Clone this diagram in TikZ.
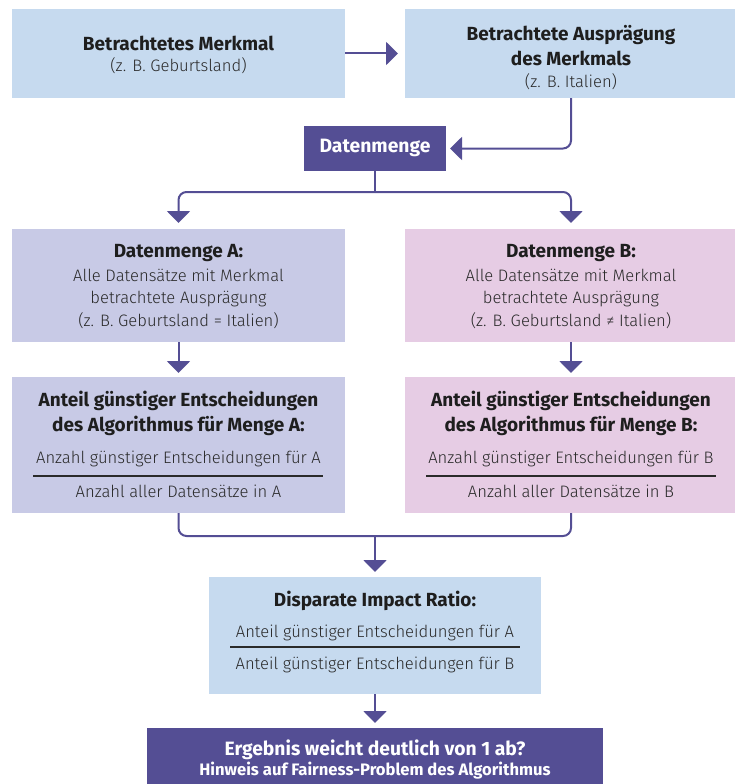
\documentclass[tikz,border=0pt]{standalone}
\usepackage{fontspec}
\setmainfont{Fira Sans}
\newfontfamily\lightf{Fira Sans Light}
\usetikzlibrary{arrows.meta}
\definecolor{lblue}{HTML}{C6DAEF}
\definecolor{lav}{HTML}{C8CAE6}
\definecolor{pinkb}{HTML}{E6CCE4}
\definecolor{purp}{HTML}{544E94}
\definecolor{txtb}{HTML}{1E1E1E}
\definecolor{txtr}{HTML}{2A2A2A}
\begin{document}
\begin{tikzpicture}[x=1pt,y=-1pt,
  boxbase/.style={inner sep=0pt, outer sep=0pt, draw=none},
  conn/.style={draw=purp, line width=2pt, rounded corners=8pt},
  arr/.style={conn, -{Triangle[width=23pt,length=12pt]}},
  bt/.style={font=\fontsize{19}{25}\selectfont\bfseries, text=txtb, align=center, inner sep=0pt},
  rt/.style={font=\fontsize{16.6}{22.5}\selectfont\lightf, text=txtr, align=center, inner sep=0pt},
  wt/.style={font=\fontsize{19.3}{24}\selectfont\bfseries, text=white, align=center, inner sep=0pt},
  ws/.style={font=\fontsize{16.6}{20}\selectfont\bfseries, text=white, align=center, inner sep=0pt},
  rule/.style={draw=txtr, line width=1.3pt}
]
\useasboundingbox (0,0) rectangle (734,784);

% top row
\node[boxbase, fill=lblue, minimum width=333pt, minimum height=89pt] (b1) at (178.5,53.5) {};
\node[bt] (b1t) at (178.5,43) {Betrachtetes Merkmal};
\node[rt] (b1s) at (178.5,65.5) {(z. B. Geburtsland)};

\node[boxbase, fill=lblue, minimum width=332pt, minimum height=89pt] (b2) at (571,53.5) {};
\node[bt] (b2t) at (571,45.5) {Betrachtete Ausprägung\\des Merkmals};
\node[rt] (b2s) at (571,81.5) {(z. B. Italien)};

% Datenmenge
\node[boxbase, fill=purp, minimum width=142pt, minimum height=45pt] (dm) at (375,148.5) {};
\node[wt] (dmt) at (375,147.5) {Datenmenge};

% A / B
\node[boxbase, fill=lav, minimum width=333pt, minimum height=113pt] (A) at (178.5,285.5) {};
\node[bt] (At) at (178.5,253.5) {Datenmenge A:};
\node[rt] (As) at (178.5,298.5) {Alle Datensätze mit Merkmal\\betrachtete Ausprägung\\(z. B. Geburtsland = Italien)};

\node[boxbase, fill=pinkb, minimum width=332pt, minimum height=113pt] (B) at (571,285.5) {};
\node[bt] (Bt) at (571,253.5) {Datenmenge B:};
\node[rt] (Bs) at (571,298.5) {Alle Datensätze mit Merkmal\\betrachtete Ausprägung\\(z. B. Geburtsland ≠ Italien)};

% A2 / B2
\node[boxbase, fill=lav, minimum width=333pt, minimum height=136pt] (A2) at (178.5,445) {};
\node[bt] (A2t) at (178.5,413) {Anteil günstiger Entscheidungen\\des Algorithmus für Menge A:};
\node[rt] (A2n) at (178.5,459) {Anzahl günstiger Entscheidungen für A};
\coordinate (A2l) at (33,476);
\coordinate (A2r) at (323,476);
\draw[rule] (A2l) -- (A2r);
\node[rt] (A2d) at (178.5,491.5) {Anzahl aller Datensätze in A};

\node[boxbase, fill=pinkb, minimum width=332pt, minimum height=136pt] (B2) at (571,445) {};
\node[bt] (B2t) at (571,413) {Anteil günstiger Entscheidungen\\des Algorithmus für Menge B:};
\node[rt] (B2n) at (571,459) {Anzahl günstiger Entscheidungen für B};
\coordinate (B2l) at (426,476);
\coordinate (B2r) at (716,476);
\draw[rule] (B2l) -- (B2r);
\node[rt] (B2d) at (571,491.5) {Anzahl aller Datensätze in B};

% DIR
\node[boxbase, fill=lblue, minimum width=332pt, minimum height=117pt] (dir) at (375,635.5) {};
\node[bt] (dirt) at (375,601) {Disparate Impact Ratio:};
\node[rt] (dirn) at (375,633) {Anteil günstiger Entscheidungen für A};
\coordinate (dirl) at (230,647);
\coordinate (dirr) at (520,647);
\draw[rule] (dirl) -- (dirr);
\node[rt] (dird) at (375,665) {Anteil günstiger Entscheidungen für B};

% final
\node[boxbase, fill=purp, minimum width=456pt, minimum height=56pt] (fin) at (375,756) {};
\node[wt] (fint) at (375,749.5) {Ergebnis weicht deutlich von 1 ab?};
\node[ws] (fins) at (375,771) {Hinweis auf Fairness-Problem des Algorithmus};

% connectors
\draw[arr, shorten >=7pt] (b1.east) -- (b2.west);
\draw[arr, shorten >=4pt] (b2.south) |- (dm.east);
\coordinate (split) at (375,192);
\draw[conn] (dm.south) -- (split);
\draw[arr, shorten >=6pt] (split) -| (A.north);
\draw[arr, shorten >=6pt] (split) -| (B.north);
\draw[arr, shorten >=4pt] (A.south) -- (A2.north);
\draw[arr, shorten >=4pt] (B.south) -- (B2.north);
\coordinate (merge) at (375,536);
\draw[conn] (A2.south) |- (merge) -| (B2.south);
\draw[arr, shorten >=5pt] (merge) -- (dir.north);
\draw[arr, shorten >=5pt] (dir.south) -- (fin.north);
\end{tikzpicture}
\end{document}
